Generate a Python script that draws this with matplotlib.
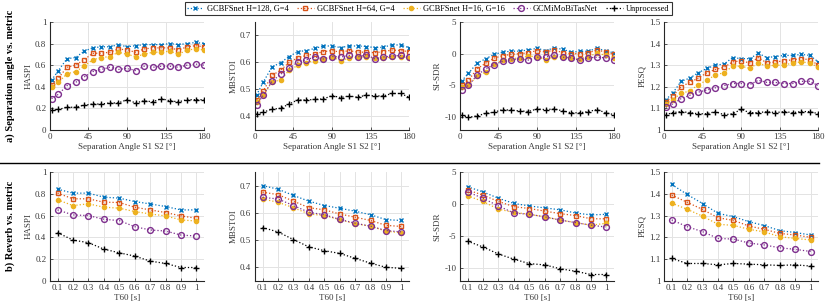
import matplotlib
matplotlib.use('Agg')
import matplotlib.pyplot as plt
from matplotlib.lines import Line2D
from matplotlib.ticker import FuncFormatter

plt.rcParams['font.family'] = ['Liberation Serif', 'DejaVu Serif']
plt.rcParams['mathtext.fontset'] = 'stix'

# x values
angles = [2, 10, 20, 30, 40, 50, 60, 70, 80, 90, 100, 110, 120, 130, 140, 150, 160, 170, 180]
t60 = [0.1, 0.2, 0.3, 0.4, 0.5, 0.6, 0.7, 0.8, 0.9, 1.0]

series_names = ['GCBFSnet H=128, G=4', 'GCBFSnet H=64, G=4', 'GCBFSnet H=16, G=16',
                'GCMiMoBiTasNet', 'Unprocessed']

# a) separation angle vs. metric
haspi_angle = [
    [0.46, 0.55, 0.66, 0.67, 0.73, 0.76, 0.77, 0.77, 0.79, 0.77, 0.78, 0.79, 0.79, 0.79, 0.80, 0.79, 0.80, 0.81, 0.80],
    [0.42, 0.48, 0.58, 0.60, 0.65, 0.71, 0.71, 0.72, 0.75, 0.74, 0.72, 0.75, 0.76, 0.76, 0.76, 0.74, 0.77, 0.78, 0.77],
    [0.40, 0.44, 0.52, 0.54, 0.59, 0.65, 0.67, 0.68, 0.72, 0.70, 0.68, 0.70, 0.72, 0.72, 0.73, 0.70, 0.74, 0.75, 0.74],
    [0.29, 0.33, 0.41, 0.44, 0.49, 0.54, 0.56, 0.58, 0.56, 0.57, 0.55, 0.59, 0.58, 0.59, 0.59, 0.58, 0.60, 0.61, 0.60],
    [0.18, 0.19, 0.21, 0.21, 0.23, 0.24, 0.24, 0.25, 0.25, 0.28, 0.25, 0.27, 0.26, 0.29, 0.27, 0.26, 0.28, 0.28, 0.28],
]
mbstoi_angle = [
    [0.479, 0.528, 0.583, 0.599, 0.622, 0.640, 0.644, 0.652, 0.661, 0.661, 0.655, 0.661, 0.661, 0.659, 0.655, 0.656, 0.666, 0.664, 0.655],
    [0.461, 0.495, 0.552, 0.571, 0.600, 0.617, 0.626, 0.632, 0.640, 0.644, 0.638, 0.644, 0.638, 0.638, 0.636, 0.640, 0.646, 0.644, 0.640],
    [0.455, 0.480, 0.528, 0.535, 0.571, 0.589, 0.599, 0.607, 0.613, 0.620, 0.607, 0.616, 0.620, 0.620, 0.616, 0.616, 0.620, 0.622, 0.617],
    [0.443, 0.479, 0.530, 0.556, 0.579, 0.601, 0.610, 0.620, 0.613, 0.622, 0.620, 0.626, 0.620, 0.629, 0.613, 0.620, 0.624, 0.626, 0.620],
    [0.409, 0.416, 0.427, 0.430, 0.446, 0.461, 0.461, 0.463, 0.465, 0.477, 0.470, 0.476, 0.471, 0.479, 0.476, 0.476, 0.485, 0.485, 0.471],
]
sisdr_angle = [
    [-4.3, -3.1, -1.5, -0.8, -0.1, 0.25, 0.4, 0.4, 0.6, 0.85, 0.5, 0.9, 0.7, 0.25, 0.35, 0.4, 0.9, 0.4, 0.15],
    [-5.0, -4.2, -2.4, -1.5, -0.7, -0.3, -0.1, 0.0, 0.15, 0.5, 0.25, 0.6, 0.15, 0.0, 0.0, 0.15, 0.6, 0.25, -0.1],
    [-5.2, -5.0, -3.5, -2.9, -1.6, -1.0, -0.8, -0.65, -0.4, -0.45, -1.0, -0.45, -0.55, -0.65, -0.8, -0.45, 0.1, -0.25, -0.65],
    [-5.7, -5.0, -3.4, -2.4, -1.7, -1.2, -1.0, -0.8, -1.0, -0.55, -0.55, -0.2, -0.55, -0.65, -1.05, -0.65, -0.55, -0.65, -0.95],
    [-9.7, -10.0, -9.8, -9.4, -9.2, -8.8, -8.9, -9.0, -9.1, -8.7, -8.8, -8.7, -9.0, -9.3, -9.3, -9.1, -8.8, -9.3, -9.6],
]
pesq_angle = [
    [1.14, 1.17, 1.225, 1.24, 1.265, 1.285, 1.30, 1.305, 1.335, 1.33, 1.33, 1.355, 1.335, 1.34, 1.345, 1.345, 1.35, 1.345, 1.315],
    [1.13, 1.155, 1.20, 1.22, 1.24, 1.265, 1.28, 1.29, 1.315, 1.32, 1.31, 1.335, 1.31, 1.315, 1.32, 1.325, 1.33, 1.325, 1.30],
    [1.12, 1.14, 1.17, 1.18, 1.21, 1.23, 1.255, 1.265, 1.295, 1.295, 1.285, 1.31, 1.295, 1.30, 1.30, 1.31, 1.315, 1.31, 1.29],
    [1.105, 1.12, 1.145, 1.16, 1.175, 1.185, 1.195, 1.205, 1.215, 1.215, 1.21, 1.23, 1.22, 1.22, 1.215, 1.215, 1.225, 1.225, 1.205],
    [1.07, 1.08, 1.085, 1.08, 1.075, 1.075, 1.085, 1.07, 1.075, 1.095, 1.08, 1.08, 1.085, 1.08, 1.085, 1.08, 1.085, 1.085, 1.075],
]

# b) reverb vs. metric
haspi_t60 = [
    [0.843, 0.806, 0.806, 0.769, 0.760, 0.729, 0.707, 0.683, 0.652, 0.652],
    [0.806, 0.754, 0.754, 0.723, 0.720, 0.677, 0.652, 0.628, 0.597, 0.575],
    [0.745, 0.692, 0.708, 0.677, 0.668, 0.637, 0.615, 0.597, 0.560, 0.550],
    [0.652, 0.606, 0.600, 0.566, 0.554, 0.498, 0.468, 0.458, 0.421, 0.412],
    [0.443, 0.375, 0.351, 0.292, 0.258, 0.228, 0.182, 0.160, 0.123, 0.123],
]
mbstoi_t60 = [
    [0.700, 0.687, 0.664, 0.643, 0.627, 0.617, 0.606, 0.593, 0.575, 0.572],
    [0.676, 0.667, 0.643, 0.619, 0.611, 0.596, 0.584, 0.572, 0.554, 0.550],
    [0.651, 0.639, 0.619, 0.596, 0.590, 0.575, 0.560, 0.551, 0.533, 0.526],
    [0.657, 0.651, 0.627, 0.602, 0.593, 0.576, 0.562, 0.551, 0.535, 0.530],
    [0.546, 0.530, 0.502, 0.475, 0.461, 0.451, 0.433, 0.415, 0.400, 0.396],
]
sisdr_t60 = [
    [2.7, 1.9, 0.9, 0.1, -0.3, -0.6, -0.9, -1.4, -1.7, -1.6],
    [2.2, 1.4, 0.4, -0.4, -0.7, -1.1, -1.5, -1.8, -2.3, -2.3],
    [1.3, 0.4, -0.8, -1.3, -1.6, -2.0, -2.5, -2.9, -3.3, -3.0],
    [1.9, 0.9, -0.3, -1.4, -1.6, -2.0, -2.5, -2.9, -3.3, -3.6],
    [-5.8, -6.7, -7.8, -8.6, -9.3, -9.5, -10.1, -10.5, -11.0, -11.0],
]
pesq_t60 = [
    [1.443, 1.397, 1.355, 1.310, 1.295, 1.272, 1.254, 1.231, 1.222, 1.211],
    [1.394, 1.361, 1.328, 1.290, 1.278, 1.252, 1.237, 1.218, 1.211, 1.200],
    [1.357, 1.329, 1.297, 1.260, 1.255, 1.237, 1.225, 1.203, 1.195, 1.188],
    [1.280, 1.249, 1.226, 1.195, 1.192, 1.174, 1.165, 1.152, 1.145, 1.135],
    [1.103, 1.080, 1.080, 1.074, 1.080, 1.077, 1.074, 1.071, 1.074, 1.068],
]

metric_names = ['HASPI', 'MBSTOI', 'SI-SDR', 'PESQ']
ylims = [(0, 1), (0.35, 0.75), (-12, 5), (1, 1.5)]
yticks = [[0, 0.2, 0.4, 0.6, 0.8, 1], [0.4, 0.5, 0.6, 0.7], [-10, -5, 0, 5],
          [1, 1.1, 1.2, 1.3, 1.4, 1.5]]

# style of each series (matlab default colours)
colours = ['#0072BD', '#D95319', '#EDB120', '#7E2F8E', 'black']
markers = ['x', 's', 'o', 'o', '+']
msizes = [3.0, 3.0, 3.0, 4.2, 4.0]
mfaces = ['#0072BD', 'none', '#EDB120', 'none', 'black']

fmt = FuncFormatter(lambda v, pos: '{:g}'.format(round(v, 3)))
grey = '#3a3a3a'

fig = plt.figure(figsize=(8.3, 3.05), dpi=100)

lefts = [0.060, 0.307, 0.554, 0.800]
width = 0.186
row_bottom = [0.574, 0.079]
row_height = [0.354, 0.357]

rows = [
    (angles, [haspi_angle, mbstoi_angle, sisdr_angle, pesq_angle]),
    (t60, [haspi_t60, mbstoi_t60, sisdr_t60, pesq_t60]),
]

for r, (xs, metrics) in enumerate(rows):
    for c, data in enumerate(metrics):
        ax = fig.add_axes([lefts[c], row_bottom[r], width, row_height[r]])
        for k in range(len(series_names)):
            ax.plot(xs, data[k], linestyle=':', linewidth=0.9, color=colours[k],
                    marker=markers[k], markersize=msizes[k], markerfacecolor=mfaces[k],
                    markeredgecolor=colours[k], markeredgewidth=1.0, label=series_names[k])
        ax.set_ylim(*ylims[c])
        ax.set_yticks(yticks[c])
        ax.yaxis.set_major_formatter(fmt)
        ax.set_ylabel(metric_names[c], fontsize=6.5, labelpad=2, color=grey)
        if r == 0:
            ax.set_xlim(0, 180)
            ax.set_xticks([0, 45, 90, 135, 180])
            ax.set_xlabel('Separation Angle S1 S2 [°]', fontsize=6.5, labelpad=1, color=grey)
        else:
            ax.set_xlim(0.05, 1.05)
            ax.set_xticks(t60)
            ax.xaxis.set_major_formatter(fmt)
            ax.set_xlabel('T60 [s]', fontsize=6.5, labelpad=1, color=grey)
        ax.grid(True, color='#e3e3e3', linewidth=0.7)
        ax.set_axisbelow(True)
        ax.spines['top'].set_visible(False)
        ax.spines['right'].set_visible(False)
        ax.spines['left'].set_color('#262626')
        ax.spines['bottom'].set_color('#262626')
        ax.tick_params(direction='in', length=2, width=0.6, labelsize=6.5,
                       colors=grey, pad=2.5)

# row labels
fig.text(0.012, 0.75, 'a) Separation angle vs. metric', rotation=90, fontsize=7.5,
         fontweight='bold', ha='center', va='center')
fig.text(0.012, 0.26, 'b) Reverb vs. metric', rotation=90, fontsize=7.5,
         fontweight='bold', ha='center', va='center')

# separator line between rows
fig.add_artist(Line2D([0.0, 0.987], [0.466, 0.466], color='black', linewidth=1.0))

# legend
handles = [Line2D([], [], linestyle=':', linewidth=0.9, color=colours[k], marker=markers[k],
                  markersize=msizes[k], markerfacecolor=mfaces[k], markeredgecolor=colours[k],
                  markeredgewidth=1.0) for k in range(len(series_names))]
leg = fig.legend(handles, series_names, loc='center', bbox_to_anchor=(0.516, 0.972), ncol=5,
                 fontsize=6, frameon=True, fancybox=False, borderpad=0.25, handlelength=2.0,
                 handletextpad=0.4, columnspacing=1.0, borderaxespad=0)
leg.get_frame().set_edgecolor('black')
leg.get_frame().set_linewidth(0.8)

fig.savefig('out.png', dpi=100)
